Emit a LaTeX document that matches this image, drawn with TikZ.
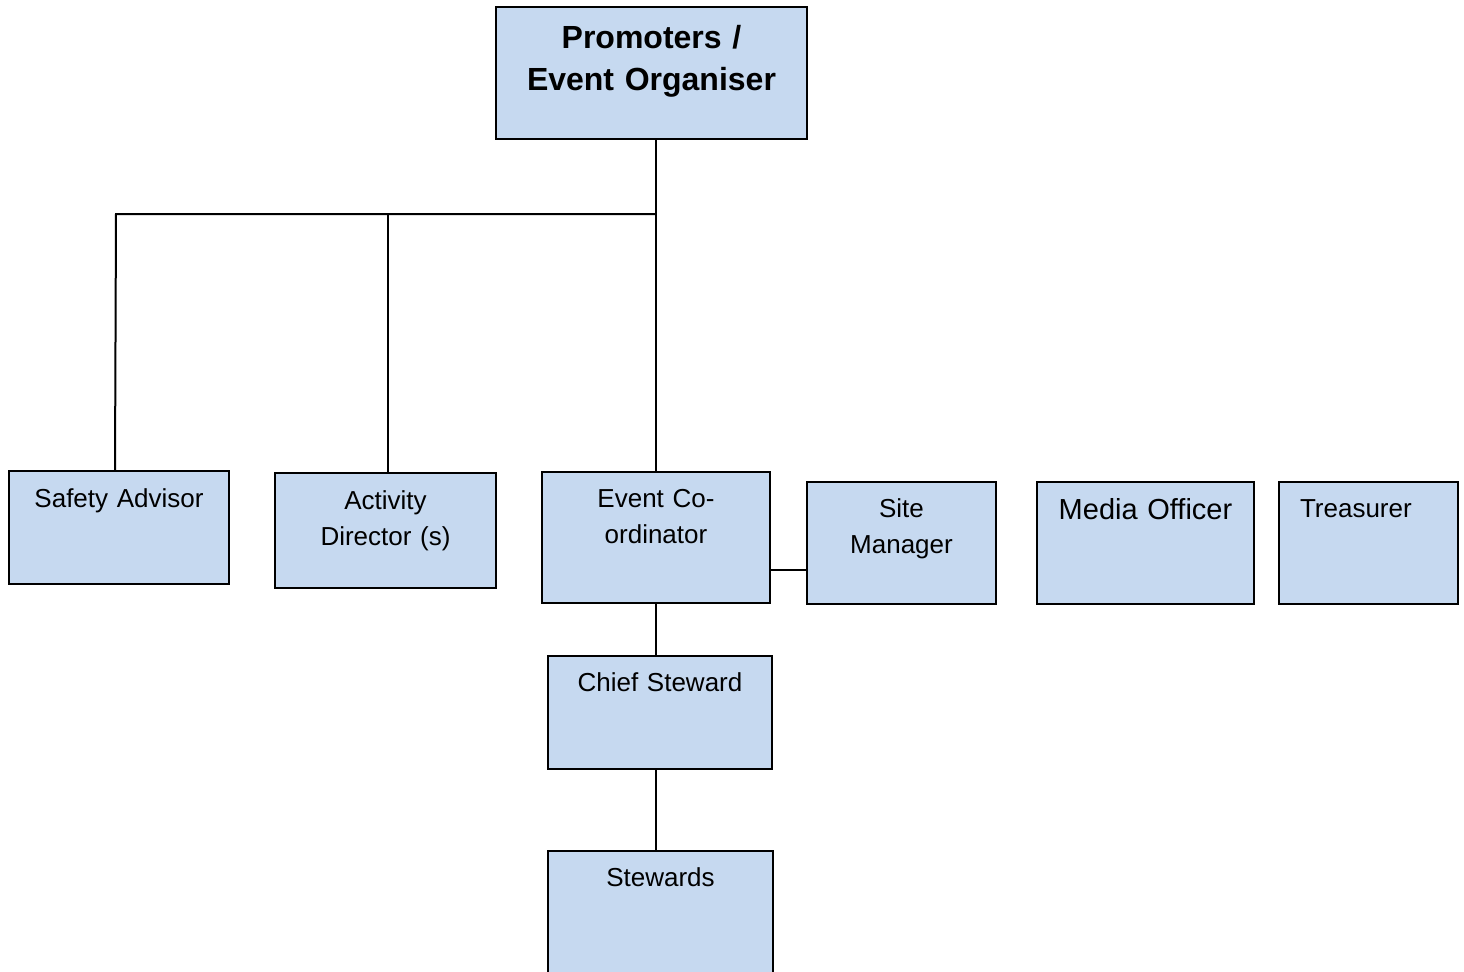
\documentclass[tikz,border=0pt]{standalone}
\usepackage{fontspec}
\setmainfont{Liberation Sans}
\usepackage{xcolor}
\usepackage{tikz}
\usetikzlibrary{positioning, calc}

\definecolor{boxblue}{HTML}{C6D9F0}

\begin{document}
\begin{tikzpicture}[x=0.5pt, y=-0.5pt,
    role/.style={rectangle, draw=black, fill=boxblue, line width=1pt, anchor=north west, inner sep=0pt, align=center, font=\fontsize{13}{18}\selectfont},
    head/.style={role, font=\fontsize{16}{21}\selectfont\bfseries},
    link/.style={draw=black, line width=1pt}
]
\useasboundingbox (0,0) rectangle (1464,971);

% Top: organiser
\node (prom) [head, text width=155.5pt, text height=20.5pt, text depth=45.5pt] at (495,6) {Promoters /\\Event Organiser};

% Row 2: roles reporting to the organiser
\node (sa) [role, text width=110pt, text height=18pt, text depth=38.5pt] at (8,470) {Safety Advisor};
\node (ad) [role, text width=110.5pt, text height=18pt, text depth=39.5pt] at (274,472) {Activity\\Director (s)};
\node (ec) [role, text width=114pt, text height=17.5pt, text depth=48pt] at (541,471) {Event Co-\\ordinator};
\node (sm) [role, text width=94.5pt, text height=17.5pt, text depth=43.5pt] at (806,481) {Site\\Manager};
\node (mo) [role, text width=108.5pt, text height=18.5pt, text depth=42.5pt, font=\fontsize{14.5}{18}\selectfont] at (1036,481) {Media Officer};
\node (tr) [role, text width=68.5pt, inner xsep=10.5pt, align=left, text height=17.5pt, text depth=43.5pt] at (1278,481) {Treasurer};

% Row 3 and 4: stewarding
\node (cs) [role, text width=112pt, text height=17.5pt, text depth=39pt] at (547,655) {Chief Steward};
\node (st) [role, text width=112.5pt, text height=17.5pt, text depth=57pt] at (547,850) {Stewards};

% Connections
\coordinate (hub) at (656,214);
\coordinate (left) at (116,214);
\coordinate (mid) at (388,214);
\draw [link] (prom.south -| hub) -- (hub) -- (ec.north -| hub);
\draw [link] (hub) -- (left) -- ([xshift=-2pt]sa.north);
\draw [link] (mid) -- (mid |- ad.north);
\draw [link] ([yshift=-16pt]ec.east) -- ([yshift=-16pt]ec.east -| sm.west);
\draw [link] (ec.south -| hub) -- (cs.north -| hub);
\draw [link] (cs.south -| hub) -- (st.north -| hub);

\end{tikzpicture}
\end{document}
